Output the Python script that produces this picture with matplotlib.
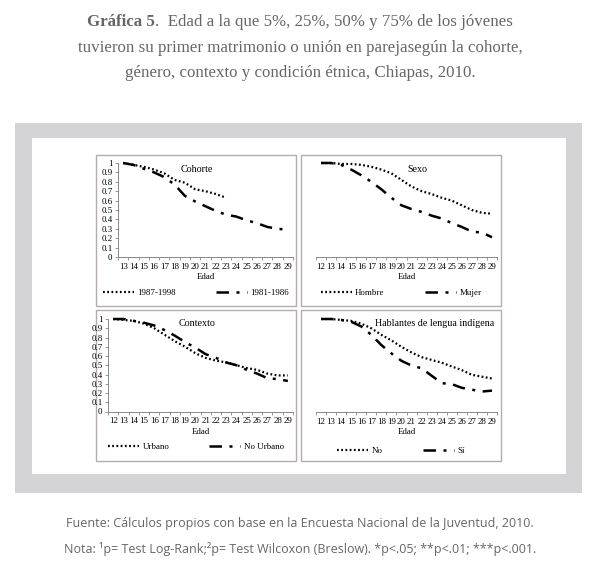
import numpy as np
import matplotlib
matplotlib.use("Agg")
import matplotlib.pyplot as plt
from matplotlib.patches import Rectangle

W, H = 600, 582

# edades
edad_cohorte = list(range(13, 30))
edad = list(range(12, 30))

# Cohorte
coh_8798 = [1.0, 0.98, 0.96, 0.93, 0.89, 0.82, 0.79, 0.72, 0.70, 0.67, 0.63]
coh_8186 = [1.0, 0.98, 0.94, 0.90, 0.85, 0.77, 0.65, 0.59, 0.54, 0.49, 0.45,
            0.43, 0.39, 0.36, 0.32, 0.30, 0.29]
# Sexo
hombre = [1.0, 1.0, 0.99, 0.99, 0.98, 0.96, 0.93, 0.89, 0.82, 0.75, 0.70,
          0.67, 0.63, 0.60, 0.55, 0.50, 0.47, 0.46]
mujer = [1.0, 1.0, 0.98, 0.93, 0.87, 0.80, 0.72, 0.63, 0.55, 0.51, 0.48,
         0.44, 0.41, 0.36, 0.32, 0.27, 0.26, 0.21]
# Contexto
urbano = [1.0, 0.99, 0.98, 0.95, 0.90, 0.83, 0.76, 0.70, 0.63, 0.58, 0.55,
          0.53, 0.50, 0.47, 0.45, 0.41, 0.39, 0.39]
no_urbano = [1.0, 1.0, 0.98, 0.96, 0.93, 0.88, 0.82, 0.75, 0.69, 0.62, 0.58,
             0.53, 0.50, 0.45, 0.41, 0.36, 0.35, 0.33]
# Hablantes de lengua indigena
hli_no = [1.0, 1.0, 0.99, 0.98, 0.95, 0.90, 0.83, 0.77, 0.70, 0.64, 0.59,
          0.56, 0.53, 0.49, 0.45, 0.40, 0.38, 0.36]
hli_si = [1.0, 1.0, 0.99, 0.97, 0.92, 0.83, 0.72, 0.63, 0.55, 0.50, 0.47,
          0.39, 0.31, 0.30, 0.26, 0.24, 0.22, 0.23]

SERIF = "Liberation Serif"
GRAY_TXT = "#666666"

fig = plt.figure(figsize=(W / 100, H / 100), dpi=100)
fig.patch.set_facecolor("white")


def fx(px):
    return px / W


def fy(py):
    return 1 - py / H


def rect(x0, y0, x1, y1, **kw):
    fig.patches.append(Rectangle((fx(x0), fy(y1)), fx(x1) - fx(x0), fy(y0) - fy(y1),
                                 transform=fig.transFigure, **kw))


# marco gris
rect(15, 123, 582, 493, facecolor="#d4d4d7", edgecolor="none", zorder=0)
rect(32, 138, 566, 474, facecolor="white", edgecolor="none", zorder=0)

panels = [
    dict(box=(96, 155, 296, 306), ax=(118, 163, 293, 257), x=edad_cohorte,
         a=coh_8798, b=coh_8186, la="1987-1998", lb="1981-1986", title="Cohorte",
         tpos=(197, 169), tha="center", yaxis=True, leg=293, xl=(12.5, 29.5)),
    dict(box=(301, 155, 501, 306), ax=(316, 163, 497, 257), x=edad,
         a=hombre, b=mujer, la="Hombre", lb="Mujer", title="Sexo",
         tpos=(417, 169), tha="center", yaxis=False, leg=293, xl=(11.5, 29.5)),
    dict(box=(96, 310, 296, 461), ax=(108, 319, 293, 411.5), x=edad,
         a=urbano, b=no_urbano, la="Urbano", lb="No Urbano", title="Contexto",
         tpos=(197, 324), tha="center", yaxis=True, leg=447, xl=(11.5, 29.5)),
    dict(box=(301, 310, 501, 461), ax=(316, 319, 497, 412), x=edad,
         a=hli_no, b=hli_si, la="No", lb="Sí", title="Hablantes de lengua indígena",
         tpos=(494, 324), tha="right", yaxis=False, leg=451, xl=(11.5, 29.5)),
]

for p in panels:
    bx0, by0, bx1, by1 = p["box"]
    rect(bx0, by0, bx1, by1, facecolor="white", edgecolor="#b3acac", lw=1.0, zorder=1)
    ax0, ay0, ax1, ay1 = p["ax"]
    ax = fig.add_axes([fx(ax0), fy(ay1), fx(ax1) - fx(ax0), fy(ay0) - fy(ay1)])
    ax.set_facecolor("none")
    ax.set_zorder(2)
    xs = p["x"]
    ax.plot(xs[:len(p["a"])], p["a"], color="black", lw=1.6, linestyle=(0, (0.8, 1.1)),
            label=p["la"], clip_on=False)
    ax.plot(xs[:len(p["b"])], p["b"], color="black", lw=1.8,
            linestyle=(0, (5, 3, 1.2, 3)), label=p["lb"], clip_on=False)
    ax.set_xlim(*p["xl"])
    ax.set_ylim(0, 1)
    ax.set_xticks(xs)
    ax.set_xticklabels([str(v) for v in xs], fontsize=6.4, family=SERIF)
    ax.set_xticks(np.arange(p["xl"][0], p["xl"][1] + 0.01, 1), minor=True)
    ax.tick_params(axis="x", which="major", length=0, pad=4)
    ax.tick_params(axis="x", which="minor", length=2, direction="out", color="#888888", width=0.6)
    for s in ["top", "right"]:
        ax.spines[s].set_visible(False)
    ax.spines["bottom"].set_color("#888888")
    ax.spines["bottom"].set_linewidth(0.7)
    if p["yaxis"]:
        ax.spines["left"].set_color("#888888")
        ax.spines["left"].set_linewidth(0.7)
        ax.set_yticks(np.round(np.arange(0, 1.01, 0.1), 1))
        ax.set_yticklabels(["0"] + [f"{v:.1f}" for v in np.arange(0.1, 0.95, 0.1)] + ["1"],
                           fontsize=6.4, family=SERIF)
        ax.tick_params(axis="y", length=2, color="#888888", width=0.6, pad=2)
    else:
        ax.spines["left"].set_visible(False)
        ax.set_yticks([])
    ax.set_xlabel("Edad", fontsize=6.4, family=SERIF, labelpad=2)
    fig.text(fx(p["tpos"][0]), fy(p["tpos"][1]), p["title"], fontsize=7.2, family=SERIF,
             ha=p["tha"], va="center", zorder=5)
    cx = (bx0 + bx1) / 2
    fig.legend(handles=ax.get_lines(), loc="center", ncol=2,
               bbox_to_anchor=(fx(cx), fy(p["leg"])), frameon=False,
               prop={"family": SERIF, "size": 6.4}, handlelength=3.5,
               columnspacing=4.5, handletextpad=0.4)

# titulo
fig.canvas.draw()
rend = fig.canvas.get_renderer()
TS = 12.2
tb = fig.text(0, fy(22), "Gráfica 5", fontsize=TS, family=SERIF, weight="bold",
              color=GRAY_TXT, va="center")
tr = fig.text(0, fy(22), ".  Edad a la que 5%, 25%, 50% y 75% de los jóvenes",
              fontsize=TS, family=SERIF, color=GRAY_TXT, va="center")
wb = tb.get_window_extent(rend).width
wr = tr.get_window_extent(rend).width
x0 = (W - wb - wr) / 2
tb.set_x(fx(x0))
tr.set_x(fx(x0 + wb))
fig.text(0.5, fy(48), "tuvieron su primer matrimonio o unión en parejasegún la cohorte,",
         fontsize=TS, family=SERIF, color=GRAY_TXT, ha="center", va="center")
fig.text(0.5, fy(73), "género, contexto y condición étnica, Chiapas, 2010.",
         fontsize=TS, family=SERIF, color=GRAY_TXT, ha="center", va="center")

# pie
fig.text(0.5, fy(524), "Fuente: Cálculos propios con base en la Encuesta Nacional de la Juventud, 2010.",
         fontsize=9, family="Open Sans", color=GRAY_TXT, ha="center", va="center")
fig.text(0.5, fy(549), "Nota: ¹p= Test Log-Rank;²p= Test Wilcoxon (Breslow). *p<.05; **p<.01; ***p<.001.",
         fontsize=9, family="Open Sans", color=GRAY_TXT, ha="center", va="center")

fig.savefig("out.png", dpi=100)
